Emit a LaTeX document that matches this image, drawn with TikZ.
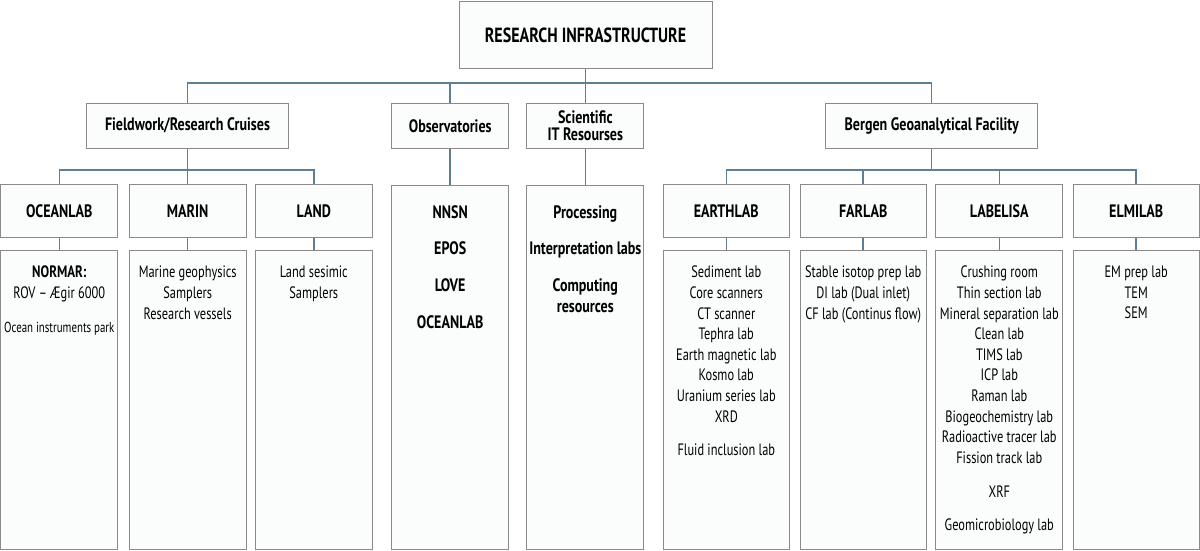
\documentclass[tikz,border=0pt]{standalone}
\usepackage{fontspec}
\setmainfont{PT Sans}[UprightFeatures={FakeStretch=0.75}, BoldFeatures={FakeStretch=0.78}]
\definecolor{boxgray}{HTML}{8A8A8A}
\definecolor{boxfill}{HTML}{FBFCFC}
\definecolor{linkblue}{HTML}{5E7E95}
\tikzset{
    unitbox/.style={draw=boxgray, fill=boxfill, line width=1pt, inner sep=0pt,
        align=center, font=\bfseries\fontsize{18}{17}\selectfont},
    listbox/.style={draw=boxgray, fill=boxfill, line width=1pt, inner sep=0pt},
    listtext/.style={anchor=north, inner sep=0pt, align=center,
        font=\fontsize{16.5}{20.6}\selectfont},
    link/.style={draw=linkblue, line width=1.5pt}
}
\begin{document}
\begin{tikzpicture}[x=1pt,y=-1pt]
                \useasboundingbox (0,0) rectangle (1200,551);

                % top and second level
                \node[unitbox, minimum width=253pt, minimum height=67pt,
                    font=\bfseries\fontsize{20.5}{22}\selectfont] (root) at (585.5,35.5) {RESEARCH INFRASTRUCTURE};
                \node[unitbox, minimum width=202pt, minimum height=45pt] (field) at (187.5,125.8) {Fieldwork/Research Cruises};
                \node[unitbox, minimum width=117pt, minimum height=45pt] (obs) at (450.2,125.8) {Observatories};
                \node[unitbox, minimum width=117.3pt, minimum height=45pt] (sci) at (585.3,125.8) {Scientific\\IT Resourses};
                \node[unitbox, minimum width=212pt, minimum height=45pt] (bergen) at (931.7,125.8) {Bergen Geoanalytical Facility};

                % third level
                \node[unitbox, minimum width=116.7pt, minimum height=53pt] (oceanlab) at (59.3,210.8) {OCEANLAB};
                \node[unitbox, minimum width=116.7pt, minimum height=53pt] (marin) at (187.7,210.8) {MARIN};
                \node[unitbox, minimum width=117pt, minimum height=53pt] (land) at (313.8,210.8) {LAND};
                \node[unitbox, minimum width=126pt, minimum height=53pt] (earthlab) at (726.3,210.8) {EARTHLAB};
                \node[unitbox, minimum width=126.3pt, minimum height=53pt] (farlab) at (863.2,210.8) {FARLAB};
                \node[unitbox, minimum width=126.7pt, minimum height=53pt] (labelisa) at (999.3,210.8) {LABELISA};
                \node[unitbox, minimum width=126.3pt, minimum height=53pt] (elmilab) at (1136.2,210.8) {ELMILAB};

                % long boxes
                \node[listbox, minimum width=117pt, minimum height=364pt] (obsbox) at (450.2,367) {};
                \node[listbox, minimum width=117.3pt, minimum height=364pt] (scibox) at (585.3,367) {};
                \node[listbox, minimum width=116.7pt, minimum height=299pt] (oceanbox) at (59.3,399.5) {};
                \node[listbox, minimum width=116.7pt, minimum height=299pt] (marinbox) at (187.7,399.5) {};
                \node[listbox, minimum width=117pt, minimum height=299pt] (landbox) at (313.8,399.5) {};
                \node[listbox, minimum width=126pt, minimum height=299pt] (earthbox) at (726.3,399.5) {};
                \node[listbox, minimum width=126.3pt, minimum height=299pt] (farbox) at (863.2,399.5) {};
                \node[listbox, minimum width=126.7pt, minimum height=299pt] (labelisabox) at (999.3,399.5) {};
                \node[listbox, minimum width=126.3pt, minimum height=299pt] (elmibox) at (1136.2,399.5) {};

                % connectors
                \foreach \c in {field,obs,sci,bergen}
                    \draw[link] (root.south) -- ++(0,13.7) -| (\c.north);
                \foreach \c in {oceanlab,marin,land}
                    \draw[link] (field.south) -- ++(0,21) -| (\c.north);
                \foreach \c in {earthlab,farlab,labelisa,elmilab}
                    \draw[link] (bergen.south) -- ++(0,21) -| (\c.north);
                \draw[link] (obs.south) -- (obsbox.north);
                \draw[link] (sci.south) -- (scibox.north);
                \draw[link] (oceanlab.south) -- (oceanbox.north);
                \draw[link] (marin.south) -- (marinbox.north);
                \draw[link] (land.south) -- (landbox.north);
                \draw[link] (earthlab.south) -- (earthbox.north);
                \draw[link] (farlab.south) -- (farbox.north);
                \draw[link] (labelisa.south) -- (labelisabox.north);
                \draw[link] (elmilab.south) -- (elmibox.north);

                % box contents
                \node[listtext, font=\bfseries\fontsize{18}{36.8}\selectfont] (obslist) at (450.2,205)
                    {NNSN\\EPOS\\LOVE\\OCEANLAB};
                \node[listtext, font=\bfseries\fontsize{18}{20.5}\selectfont] (scilist) at (585.3,205)
                    {Processing\\[16.3pt]Interpretation labs\\[16.3pt]Computing\\resources};
                \node[listtext] (oceanlist) at (59.3,266)
                    {\textbf{NORMAR:}\\ROV – Ægir 6000\\[12.9pt]{\fontsize{14.5}{16}\selectfont Ocean instruments park}};
                \node[listtext] (marinlist) at (187.7,266)
                    {Marine geophysics\\Samplers\\Research vessels};
                \node[listtext] (landlist) at (313.8,266)
                    {Land sesimic\\Samplers};
                \node[listtext] (earthlist) at (726.3,266)
                    {Sediment lab\\Core scanners\\CT scanner\\Tephra lab\\Earth magnetic lab\\Kosmo lab\\Uranium series lab\\XRD\\[13pt]Fluid inclusion lab};
                \node[listtext] (farlist) at (863.2,266)
                    {Stable isotop prep lab\\DI lab (Dual inlet)\\CF lab (Continus flow)};
                \node[listtext] (labelisalist) at (999.3,266)
                    {Crushing room\\Thin section lab\\Mineral separation lab\\Clean lab\\TIMS lab\\ICP lab\\Raman lab\\Biogeochemistry lab\\Radioactive tracer lab\\Fission track lab\\[13.4pt]XRF\\[12.4pt]Geomicrobiology lab};
                \node[listtext] (elmilist) at (1136.2,266)
                    {EM prep lab\\TEM\\SEM};
            \end{tikzpicture}
\end{document}
